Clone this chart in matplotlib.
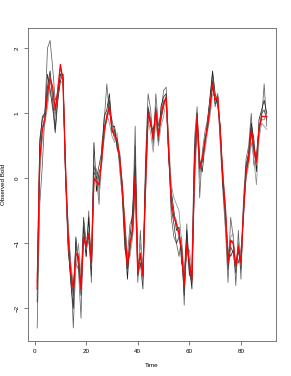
import matplotlib
matplotlib.use('Agg')
import matplotlib.pyplot as plt

plt.rcParams['font.family'] = ['Liberation Sans', 'DejaVu Sans']

time = list(range(1, 91))

red = [-1.7, 0.3, 0.75, 0.9, 1.3, 1.55, 1.4, 1.05, 1.35, 1.75,
       1.5, 0.15, -0.9, -1.45, -1.7, -1.15, -1.2, -1.7, -0.9, -1.05,
       -0.85, -1.3, 0.0, -0.05, -0.1, 0.3, 0.75, 0.95, 1.1, 0.75,
       0.65, 0.6, 0.3, -0.15, -0.8, -1.35, -1.0, -0.8, 0.05, -1.45,
       -1.15, -1.5, -0.1, 1.0, 0.85, 0.6, 1.05, 0.65, 0.95, 1.15,
       1.25, 0.4, -0.35, -0.6, -0.7, -0.85, -1.1, -1.65, -1.0, -1.3,
       -1.55, 0.2, 0.95, 0.15, 0.3, 0.55, 0.8, 1.1, 1.45, 1.2,
       1.25, 0.7, 0.0, -0.5, -1.3, -0.95, -1.0, -1.35, -1.05, -1.3,
       -0.5, 0.1, 0.3, 0.75, 0.45, 0.25, 0.75, 0.95, 0.95, 0.95]

obs1 = [-2.3, -0.4, 0.2, 1.0, 2.0, 2.12, 1.7, 1.2, 1.3, 1.6,
        1.55, 0.0, -0.7, -1.3, -2.3, -1.3, -1.4, -2.15, -0.7, -1.2,
        -0.5, -1.6, 0.2, 0.0, -0.4, 0.5, 0.9, 1.45, 1.0, 0.9,
        0.7, 0.55, 0.2, -0.3, -1.1, -1.2, -0.7, -0.6, 0.8, -1.6,
        -0.8, -1.55, 0.3, 1.3, 1.05, 0.5, 1.3, 0.8, 1.0, 1.35,
        1.4, 0.5, -0.6, -0.9, -1.0, -1.2, -0.9, -1.95, -0.7, -1.5,
        -1.3, 0.6, 1.1, -0.3, 0.4, 0.7, 0.9, 1.2, 1.6, 1.1,
        1.3, 0.5, -0.2, -0.8, -1.6, -0.6, -0.9, -1.65, -0.8, -1.55,
        -0.3, 0.3, 0.5, 1.0, 0.2, 0.35, 0.8, 0.9, 1.45, 0.8]

obs2 = [-1.9, 0.5, 0.95, 1.0, 1.4, 1.65, 1.2, 0.75, 1.3, 1.6,
        1.6, 0.1, -1.0, -1.6, -2.0, -0.9, -1.3, -1.8, -0.75, -1.2,
        -0.6, -1.4, 0.55, -0.2, 0.1, 0.2, 0.95, 1.05, 1.3, 0.8,
        0.8, 0.5, 0.25, -0.1, -0.9, -1.55, -0.9, -0.5, 0.2, -1.3,
        -1.3, -1.45, 0.0, 1.05, 0.8, 0.75, 0.95, 0.55, 1.1, 1.25,
        1.3, 0.3, -0.2, -0.5, -0.8, -0.75, -1.3, -1.5, -0.8, -1.35,
        -1.7, 0.4, 1.0, 0.3, 0.1, 0.5, 0.85, 1.25, 1.65, 1.3,
        1.1, 0.8, -0.1, -0.6, -1.1, -1.2, -1.1, -1.3, -1.3, -1.1,
        -0.6, 0.2, 0.4, 0.85, 0.6, 0.1, 0.9, 1.05, 1.2, 1.0]

obs3 = [-1.5, 0.1, 0.6, 0.85, 1.1, 1.4, 1.05, 1.0, 1.2, 1.5,
        1.45, 0.2, -0.8, -1.3, -1.6, -1.4, -1.0, -1.5, -1.0, -0.9,
        -1.0, -1.2, -0.1, 0.15, -0.3, 0.3, 0.6, 1.0, 0.85, 0.65,
        0.55, 0.7, 0.1, -0.25, -0.6, -1.25, -1.2, -0.9, -0.2, -1.55,
        -1.0, -1.35, -0.3, 0.9, 0.7, 0.4, 0.9, 0.5, 0.8, 0.95,
        1.2, 0.6, -0.1, -0.3, -0.4, -0.5, -1.0, -1.45, -1.2, -1.1,
        -1.4, -0.2, 0.8, 0.0, 0.35, 0.4, 0.7, 0.95, 1.3, 1.25,
        1.2, 0.6, 0.1, -0.4, -1.2, -0.9, -0.85, -1.5, -0.95, -1.2,
        -0.4, 0.0, 0.2, 0.55, 0.3, -0.1, 0.6, 0.85, 0.8, 0.75]

obs4 = [-1.6, 0.6, 0.9, 1.0, 1.6, 1.35, 1.1, 0.7, 1.2, 1.5,
        1.6, 0.0, -1.1, -1.5, -1.8, -1.0, -1.35, -1.6, -0.6, -1.0,
        -0.9, -1.5, 0.1, 0.0, 0.2, 0.4, 0.8, 0.9, 1.2, 0.7,
        0.75, 0.45, 0.4, -0.2, -1.0, -1.4, -1.1, -0.7, 0.5, -1.5,
        -1.3, -1.7, 0.1, 1.1, 0.9, 0.65, 1.1, 0.7, 0.9, 1.1,
        1.25, 0.35, -0.45, -0.7, -1.0, -0.9, -1.15, -1.8, -0.9, -1.45,
        -1.6, 0.1, 0.9, 0.2, 0.25, 0.6, 0.75, 1.05, 1.5, 1.15,
        1.2, 0.75, -0.05, -0.5, -1.4, -1.05, -1.15, -1.45, -1.1, -1.4,
        -0.45, 0.15, 0.35, 0.8, 0.5, 0.3, 0.7, 1.0, 1.05, 0.9]

obs5 = [-1.8, 0.2, 0.8, 0.95, 1.2, 1.5, 1.3, 0.95, 1.4, 1.7,
        1.55, 0.1, -0.95, -1.4, -1.65, -1.2, -1.15, -1.75, -0.85, -1.1,
        -0.8, -1.35, -0.05, 0.1, -0.15, 0.25, 0.7, 0.9, 1.05, 0.8,
        0.6, 0.6, 0.35, -0.05, -0.7, -1.3, -1.05, -0.85, 0.0, -1.4,
        -1.2, -1.45, -0.2, 0.95, 0.9, 0.55, 1.0, 0.6, 0.95, 1.2,
        1.2, 0.45, -0.3, -0.55, -0.65, -0.95, -1.05, -1.6, -1.05, -1.25,
        -1.5, 0.05, 0.95, 0.1, 0.3, 0.5, 0.85, 1.15, 1.4, 1.2,
        1.3, 0.65, 0.05, -0.55, -1.25, -1.0, -0.95, -1.4, -1.0, -1.35,
        -0.55, 0.05, 0.3, 0.7, 0.4, 0.2, 0.8, 0.9, 0.9, 1.0]

others = [obs1, obs2, obs3, obs4, obs5]
greys = ['#606060', '#202020', '#909090', '#3a3a3a', '#757575']

fig = plt.figure(figsize=(2.91, 3.76), dpi=100)
ax = fig.add_axes([0.0962, 0.0931, 0.852, 0.8324])

for s, g in zip(others, greys):
    ax.plot(time, s, color=g, lw=0.55)
ax.plot(time, red, color='red', lw=0.95)

ax.set_xlim(-2.56, 93.56)
ax.set_ylim(-2.5, 2.31)
ax.set_xticks([0, 20, 40, 60, 80])
ax.set_yticks([-2, -1, 0, 1, 2])
ax.tick_params(labelsize=4.5, length=3, width=0.5, color='#444444', pad=3)
for lab in ax.get_yticklabels():
    lab.set_rotation(90)
    lab.set_va('center')
for sp in ax.spines.values():
    sp.set_color('#777777')
    sp.set_linewidth(0.7)

ax.set_xlabel('Time', fontsize=4.5, labelpad=6)
ax.set_ylabel('Observed Bold', fontsize=4.5, labelpad=6)

fig.savefig('out.png', dpi=100)
